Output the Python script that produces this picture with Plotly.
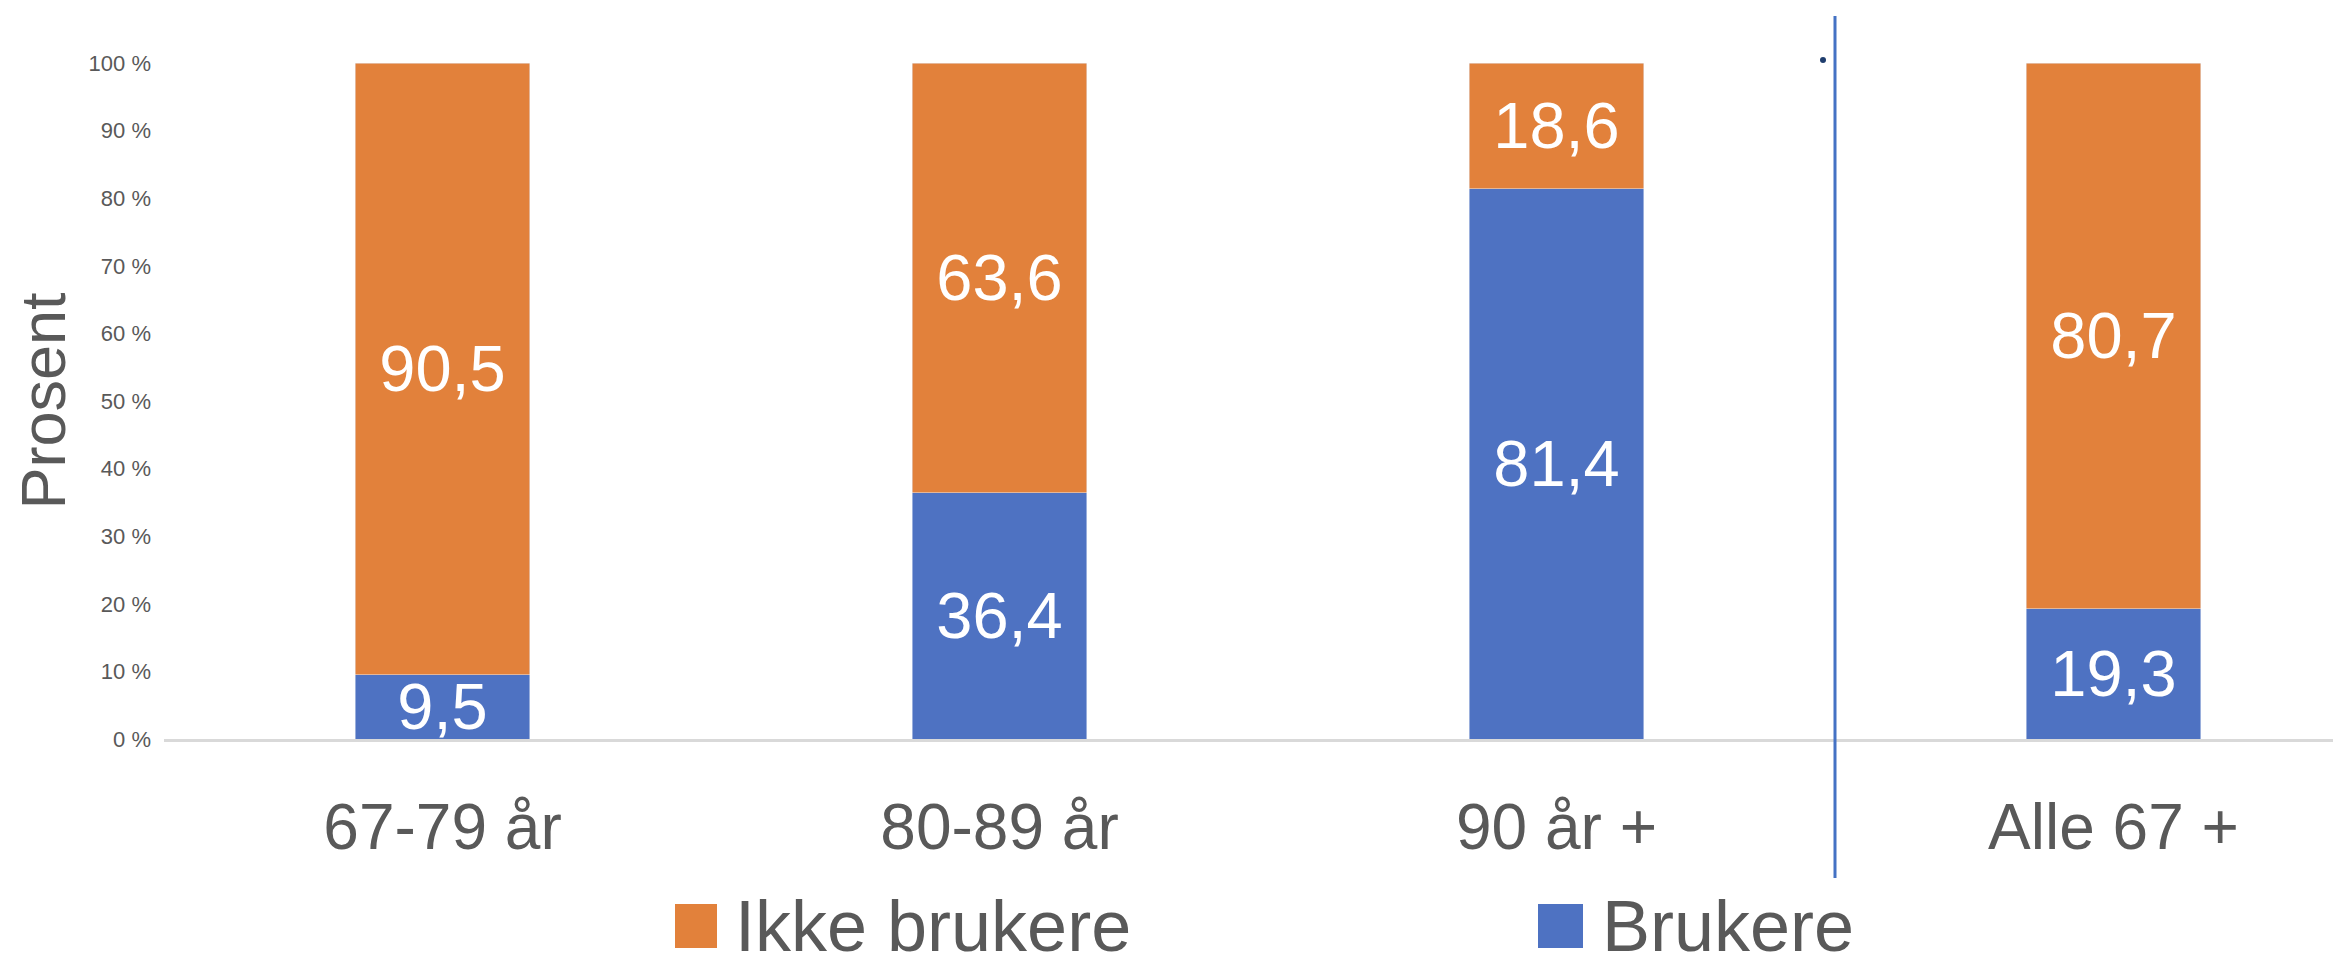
import plotly.graph_objects as go

categories = ["67-79 år", "80-89 år", "90 år +", "Alle 67 +"]
brukere = [9.5, 36.4, 81.4, 19.3]
ikke_brukere = [90.5, 63.6, 18.6, 80.7]
y_ticks = list(range(0, 101, 10))
y_tick_labels = [f"{v} %" for v in y_ticks]

ORANGE = "#E2813B"
BLUE = "#4E72C2"
GREY = "#595959"
FONT = "Liberation Sans, Arial, sans-serif"

fig = go.Figure()
for vals, name, col in [(brukere, "Brukere", BLUE), (ikke_brukere, "Ikke brukere", ORANGE)]:
    fig.add_trace(go.Bar(x=categories, y=vals, name=name, marker_color=col,
                         texttemplate="%{y:.1f}", textposition="inside", insidetextanchor="middle",
                         constraintext="none", textangle=0,
                         textfont=dict(color="white", size=65, family=FONT)))

# page has an 8px body margin; figure coordinates = page coordinates - 8
OFF = 8
W, H = 2341 - OFF, 965 - OFF
L = 164 - OFF
T = 63 - OFF
PB = 739 - OFF  # plot bottom in figure px
R = 0
B = H - PB
pw, ph = W - L - R, PB - T

def px(x):  # page px -> paper x
    return (x - OFF - L) / pw

def py(y):  # page px -> paper y
    return (PB - (y - OFF)) / ph

LEG_Y = 926
shapes = [
    dict(type="line", xref="x", yref="paper", x0=2.5, x1=2.5, y0=py(878), y1=py(16),
         line=dict(color="#4472C4", width=3)),
    dict(type="rect", xref="paper", yref="paper", x0=px(675), x1=px(717),
         y0=py(LEG_Y + 22), y1=py(LEG_Y - 22), fillcolor=ORANGE, line=dict(width=0)),
    dict(type="rect", xref="paper", yref="paper", x0=px(1538), x1=px(1583),
         y0=py(LEG_Y + 22), y1=py(LEG_Y - 22), fillcolor=BLUE, line=dict(width=0)),
    dict(type="circle", xref="paper", yref="paper", x0=px(1820), x1=px(1826), y0=py(63), y1=py(57),
         fillcolor="#1F3E6E", line=dict(width=0)),
]

annotations = [
    dict(text="Ikke brukere", xref="paper", yref="paper", x=px(733), y=py(LEG_Y),
         xanchor="left", yanchor="middle", showarrow=False,
         font=dict(size=72, color=GREY, family=FONT)),
    dict(text="Brukere", xref="paper", yref="paper", x=px(1600), y=py(LEG_Y),
         xanchor="left", yanchor="middle", showarrow=False,
         font=dict(size=72, color=GREY, family=FONT)),
]

fig.update_layout(
    width=W, height=H,
    margin=dict(l=L, r=R, t=T, b=B, autoexpand=False),
    barmode="stack", bargap=0.686,
    separators=", ",
    plot_bgcolor="white", paper_bgcolor="white",
    showlegend=False,
    shapes=shapes, annotations=annotations,
    font=dict(family=FONT, color=GREY),
)
fig.update_xaxes(range=[-0.5, -0.5 + pw / 557.0], showgrid=False,
                 showline=True, linecolor="#D9D9D9", linewidth=3,
                 ticks="", tickfont=dict(size=64, color=GREY, family=FONT),
                 ticklabelstandoff=30, automargin=False)
fig.update_yaxes(range=[0, 100], tickvals=y_ticks, ticktext=y_tick_labels, showgrid=False,
                 showline=False, zeroline=False, ticks="",
                 tickfont=dict(size=22, color=GREY, family=FONT), ticklabelstandoff=12,
                 title=dict(text="Prosent", font=dict(size=63, color=GREY, family=FONT), standoff=22),
                 automargin=False)

fig.write_html("out.html")
